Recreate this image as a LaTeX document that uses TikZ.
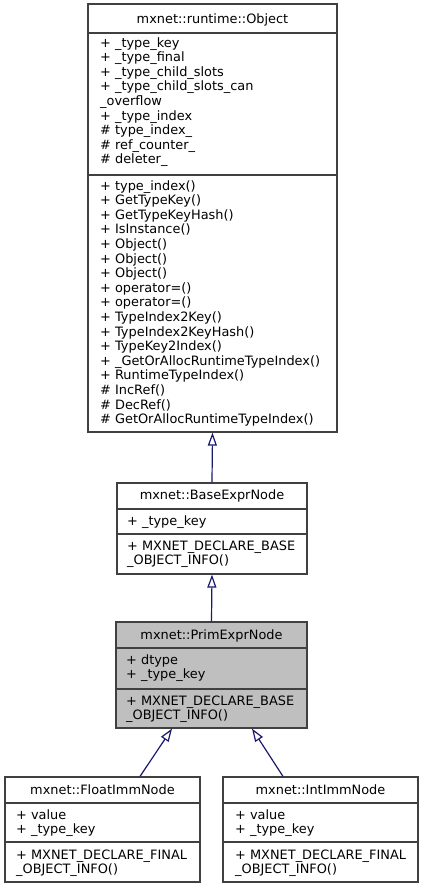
\documentclass[tikz,border=0pt]{standalone}
\usepackage{fontspec}
\setmainfont{DejaVu Sans}
\usetikzlibrary{arrows.meta}
\definecolor{edgeblue}{HTML}{191970}
\definecolor{boxgray}{HTML}{404040}
\definecolor{hlgray}{HTML}{BFBFBF}
\begin{document}
\begin{tikzpicture}[x=1pt, y=-1pt,
    classbox/.style={draw=boxgray, line width=1.2pt, fill=white, inner sep=0pt},
    sepline/.style={draw=boxgray, line width=1.2pt},
    title/.style={anchor=base, inner sep=0pt, font=\fontsize{12.9}{14.6}\selectfont},
    member/.style={anchor=base west, inner sep=0pt, font=\fontsize{12.9}{14.6}\selectfont},
    inherit/.style={draw=edgeblue, line width=1.2pt, -{Triangle[open, length=13pt, width=9pt, fill=white]}}]
  \useasboundingbox (0,0) rectangle (424,889);
  % base class
  \node[classbox, minimum width=249, minimum height=428] (obj) at (212.5,218) {};
  \draw[sepline] (obj.west |- 0,33) -- (obj.east |- 0,33);
  \draw[sepline] (obj.west |- 0,175) -- (obj.east |- 0,175);
  \node[title] (objname) at (212.5,23) {mxnet::runtime::Object};
  \foreach \txt [count=\i from 0] in {+ \_type\_key, + \_type\_final, + \_type\_child\_slots,
      + \_type\_child\_slots\_can, \_overflow, + \_type\_index, \# type\_index\_,
      \# ref\_counter\_, \# deleter\_}
    \node[member] (objattr\i) at (100,47+14.6*\i) {\txt};
  \foreach \txt [count=\i from 0] in {+ type\_index(), + GetTypeKey(), + GetTypeKeyHash(),
      + IsInstance(), + Object(), + Object(), + Object(), + operator=(), + operator=(),
      + TypeIndex2Key(), + TypeIndex2KeyHash(), + TypeKey2Index(),
      + \_GetOrAllocRuntimeTypeIndex(), + RuntimeTypeIndex(), \# IncRef(), \# DecRef(),
      \# GetOrAllocRuntimeTypeIndex()}
    \node[member] (objop\i) at (100,190+14.6*\i) {\txt};
  % BaseExprNode
  \node[classbox, minimum width=190, minimum height=91] (base) at (212,528.5) {};
  \draw[sepline] (base.west |- 0,509) -- (base.east |- 0,509);
  \draw[sepline] (base.west |- 0,534) -- (base.east |- 0,534);
  \node[title] (basename) at (212,499) {mxnet::BaseExprNode};
  \node[member] (baseattr) at (127,525) {+ \_type\_key};
  \node[member] (baseop0) at (127,550) {+ MXNET\_DECLARE\_BASE};
  \node[member] (baseop1) at (127,564.6) {\_OBJECT\_INFO()};
  % PrimExprNode
  \node[classbox, fill=hlgray, minimum width=191, minimum height=106] (prim) at (211.5,675) {};
  \draw[sepline] (prim.west |- 0,648) -- (prim.east |- 0,648);
  \draw[sepline] (prim.west |- 0,689) -- (prim.east |- 0,689);
  \node[title] (primname) at (211.5,639) {mxnet::PrimExprNode};
  \node[member] (primattr0) at (126,664) {+ dtype};
  \node[member] (primattr1) at (126,678.6) {+ \_type\_key};
  \node[member] (primop0) at (126,705) {+ MXNET\_DECLARE\_BASE};
  \node[member] (primop1) at (126,719.6) {\_OBJECT\_INFO()};
  % leaf classes
  \node[classbox, minimum width=195, minimum height=105] (flt) at (102.5,829.5) {};
  \draw[sepline] (flt.west |- 0,803) -- (flt.east |- 0,803);
  \draw[sepline] (flt.west |- 0,842) -- (flt.east |- 0,842);
  \node[title] (fltname) at (102.5,794) {mxnet::FloatImmNode};
  \node[member] (fltattr0) at (16,819) {+ value};
  \node[member] (fltattr1) at (16,833.6) {+ \_type\_key};
  \node[member] (fltop0) at (16,859) {+ MXNET\_DECLARE\_FINAL};
  \node[member] (fltop1) at (16,873.6) {\_OBJECT\_INFO()};
  \node[classbox, minimum width=195, minimum height=105] (intn) at (320.5,829.5) {};
  \draw[sepline] (intn.west |- 0,803) -- (intn.east |- 0,803);
  \draw[sepline] (intn.west |- 0,842) -- (intn.east |- 0,842);
  \node[title] (intname) at (320.5,794) {mxnet::IntImmNode};
  \node[member] (intattr0) at (235,819) {+ value};
  \node[member] (intattr1) at (235,833.6) {+ \_type\_key};
  \node[member] (intop0) at (235,859) {+ MXNET\_DECLARE\_FINAL};
  \node[member] (intop1) at (235,873.6) {\_OBJECT\_INFO()};
  % inheritance
  \draw[inherit] (base.north) -- (obj.south);
  \draw[inherit] (prim.north) -- (base.south);
  \draw[inherit] ([xshift=37.5pt]flt.north) -- ([xshift=-39.5pt]prim.south);
  \draw[inherit] ([xshift=-37.5pt]intn.north) -- ([xshift=40.5pt]prim.south);
\end{tikzpicture}
\end{document}
